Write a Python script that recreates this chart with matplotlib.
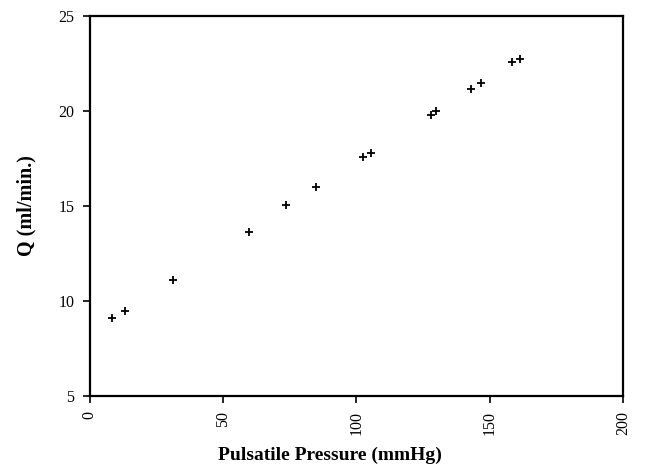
import matplotlib
matplotlib.use("Agg")
import matplotlib.pyplot as plt

pressure = [8.5, 13.3, 31.4, 59.7, 73.8, 84.8, 102.5, 105.4, 128.2, 129.8, 143.1, 146.9, 158.5, 161.2]
flow = [9.09, 9.49, 11.09, 13.65, 15.04, 16.02, 17.6, 17.8, 19.79, 20.0, 21.16, 21.49, 22.56, 22.72]
xticks = [0, 50, 100, 150, 200]
yticks = [5, 10, 15, 20, 25]

plt.rcParams['font.family'] = ['Liberation Serif', 'DejaVu Serif']

fig = plt.figure(figsize=(6.45, 4.76), dpi=100)
ax = fig.add_axes([89.5/645, 1-396/476, (623-89.5)/645, (396-16)/476])
ax.plot(pressure, flow, linestyle='none', marker='+', markersize=5.5, mew=1.3, color='black')
ax.set_xlim(0, 200)
ax.set_ylim(5, 25)
ax.set_xticks(xticks)
ax.set_yticks(yticks)
ax.set_xticklabels([str(v) for v in xticks], rotation=90, fontsize=11.5)
ax.set_yticklabels([str(v) for v in yticks], fontsize=11.5)
ax.tick_params(direction='out', length=5, width=1.2, color='black', pad=6)
for s in ax.spines.values():
    s.set_linewidth(1.6)
    s.set_color('black')
ax.set_xlabel('Pulsatile Pressure (mmHg)', fontsize=14, fontweight='bold', labelpad=8, x=0.451)
ax.set_ylabel('Q (ml/min.)', fontsize=14.5, fontweight='bold', labelpad=16)
fig.savefig('out.png', dpi=100)
